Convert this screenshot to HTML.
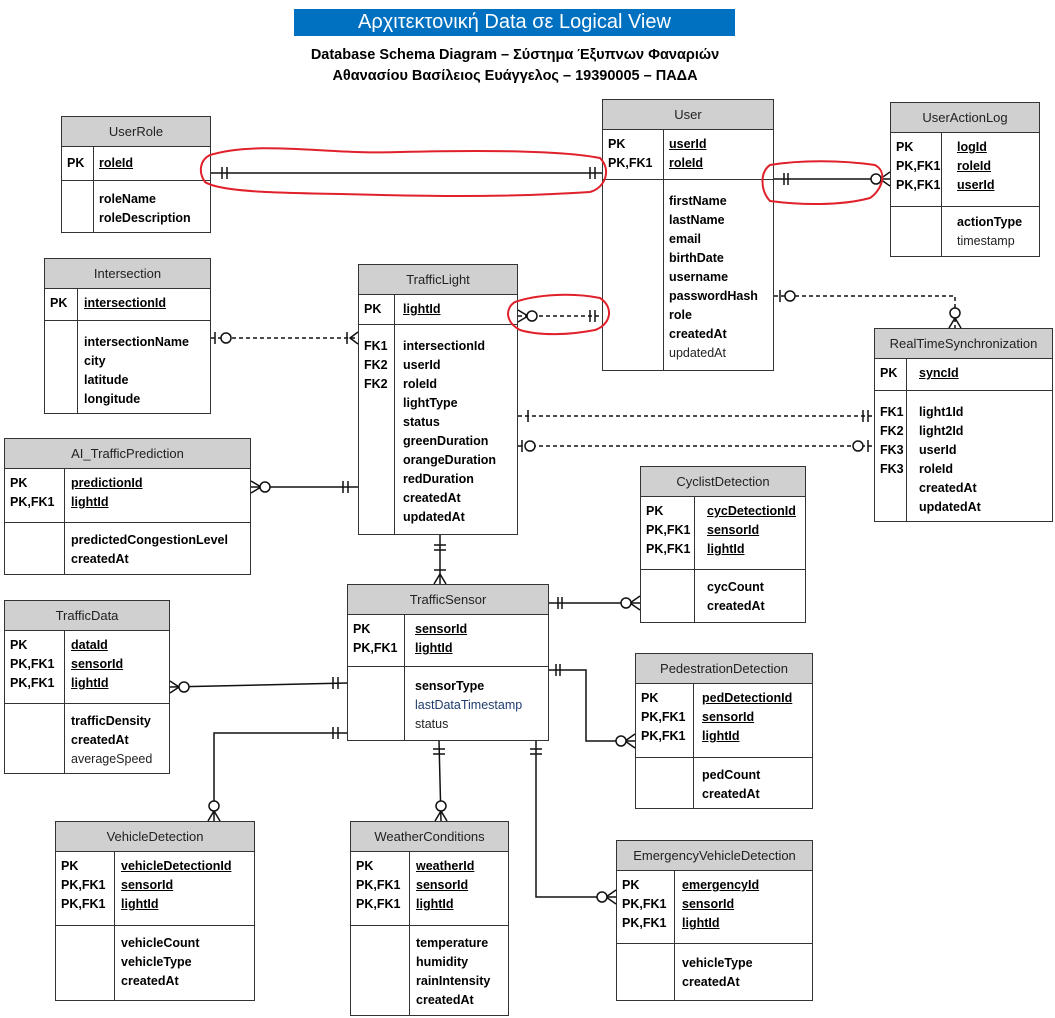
<!DOCTYPE html>
<html><head><meta charset="utf-8"><style>
body{margin:0;width:1055px;height:1018px;background:#fff;position:relative;overflow:hidden;font-family:"Liberation Sans",sans-serif;}
.t{position:absolute;border:1px solid #333;background:#fff;box-sizing:border-box;font-size:12.5px;color:#000}
.h{background:#d0d0d0;border-bottom:1px solid #333;text-align:center;font-size:13px;color:#222;box-sizing:border-box;padding-top:7px;height:30px}
.s{position:relative;border-bottom:1px solid #333;box-sizing:border-box}
.s:last-child{border-bottom:none}
.k{position:absolute;left:0;top:0;bottom:0;border-right:1px solid #333;padding-left:5px;font-weight:bold;box-sizing:border-box;line-height:19px}
.v{position:absolute;top:0;line-height:19px;font-weight:bold;white-space:nowrap}
.v u{text-decoration:underline}
.n{font-weight:normal;color:#222}
.b{color:#1f3c6e;font-weight:normal}
.title{position:absolute;left:294px;top:9px;width:441px;height:27px;background:#0070c0;color:#fff;font-size:20px;text-align:center;line-height:27px}
.sub{position:absolute;left:0;width:1030px;text-align:center;font-weight:bold;font-size:14.5px}
svg{position:absolute;left:0;top:0}
</style></head><body>
<div class="title">Αρχιτεκτονική Data σε Logical View</div>
<div class="sub" style="top:47px">Database Schema Diagram – Σύστημα Έξυπνων Φαναριών</div>
<div class="sub" style="top:68px">Αθανασίου Βασίλειος Ευάγγελος – 19390005 – ΠΑΔΑ</div>

<!-- UserRole -->
<div class="t" style="left:61px;top:116px;width:150px;height:117px">
<div class="h">UserRole</div>
<div class="s" style="height:34px"><div class="k" style="width:32px;padding-top:7px">PK</div><div class="v" style="left:37px;top:7px"><u>roleId</u></div></div>
<div class="s" style="height:51px"><div class="k" style="width:32px"></div><div class="v" style="left:37px;top:9px">roleName<br>roleDescription</div></div>
</div>

<!-- User -->
<div class="t" style="left:602px;top:99px;width:172px;height:272px">
<div class="h">User</div>
<div class="s" style="height:50px"><div class="k" style="width:61px;padding-top:5px">PK<br>PK,FK1</div><div class="v" style="left:66px;top:5px"><u>userId</u><br><u>roleId</u></div></div>
<div class="s" style="height:190px"><div class="k" style="width:61px"></div><div class="v" style="left:66px;top:12px">firstName<br>lastName<br>email<br>birthDate<br>username<br>passwordHash<br>role<br>createdAt<br><span class="n">updatedAt</span></div></div>
</div>

<!-- UserActionLog -->
<div class="t" style="left:890px;top:102px;width:150px;height:155px">
<div class="h">UserActionLog</div>
<div class="s" style="height:74px"><div class="k" style="width:51px;padding-top:5px">PK<br>PK,FK1<br>PK,FK1</div><div class="v" style="left:66px;top:5px"><u>logId</u><br><u>roleId</u><br><u>userId</u></div></div>
<div class="s" style="height:50px"><div class="k" style="width:51px"></div><div class="v" style="left:66px;top:6px">actionType<br><span class="n">timestamp</span></div></div>
</div>

<!-- Intersection -->
<div class="t" style="left:44px;top:258px;width:167px;height:156px">
<div class="h">Intersection</div>
<div class="s" style="height:32px"><div class="k" style="width:33px;padding-top:5px">PK</div><div class="v" style="left:39px;top:5px"><u>intersectionId</u></div></div>
<div class="s" style="height:93px"><div class="k" style="width:33px"></div><div class="v" style="left:39px;top:12px">intersectionName<br>city<br>latitude<br>longitude</div></div>
</div>

<!-- TrafficLight -->
<div class="t" style="left:358px;top:264px;width:160px;height:271px">
<div class="h">TrafficLight</div>
<div class="s" style="height:30px"><div class="k" style="width:36px;padding-top:5px">PK</div><div class="v" style="left:44px;top:5px"><u>lightId</u></div></div>
<div class="s" style="height:210px"><div class="k" style="width:36px;padding-top:12px">FK1<br>FK2<br>FK2</div><div class="v" style="left:44px;top:12px">intersectionId<br>userId<br>roleId<br>lightType<br>status<br>greenDuration<br>orangeDuration<br>redDuration<br>createdAt<br>updatedAt</div></div>
</div>

<!-- RealTimeSynchronization -->
<div class="t" style="left:874px;top:328px;width:179px;height:194px">
<div class="h">RealTimeSynchronization</div>
<div class="s" style="height:32px"><div class="k" style="width:32px;padding-top:5px">PK</div><div class="v" style="left:44px;top:5px"><u>syncId</u></div></div>
<div class="s" style="height:131px"><div class="k" style="width:32px;padding-top:12px">FK1<br>FK2<br>FK3<br>FK3</div><div class="v" style="left:44px;top:12px">light1Id<br>light2Id<br>userId<br>roleId<br>createdAt<br>updatedAt</div></div>
</div>

<!-- AI_TrafficPrediction -->
<div class="t" style="left:4px;top:438px;width:247px;height:137px">
<div class="h">AI_TrafficPrediction</div>
<div class="s" style="height:54px"><div class="k" style="width:60px;padding-top:5px">PK<br>PK,FK1</div><div class="v" style="left:66px;top:5px"><u>predictionId</u><br><u>lightId</u></div></div>
<div class="s" style="height:52px"><div class="k" style="width:60px"></div><div class="v" style="left:66px;top:8px">predictedCongestionLevel<br>createdAt</div></div>
</div>

<!-- CyclistDetection -->
<div class="t" style="left:640px;top:466px;width:166px;height:157px">
<div class="h">CyclistDetection</div>
<div class="s" style="height:73px"><div class="k" style="width:54px;padding-top:5px">PK<br>PK,FK1<br>PK,FK1</div><div class="v" style="left:66px;top:5px"><u>cycDetectionId</u><br><u>sensorId</u><br><u>lightId</u></div></div>
<div class="s" style="height:53px"><div class="k" style="width:54px"></div><div class="v" style="left:66px;top:8px">cycCount<br>createdAt</div></div>
</div>

<!-- TrafficSensor -->
<div class="t" style="left:347px;top:584px;width:202px;height:157px">
<div class="h">TrafficSensor</div>
<div class="s" style="height:52px"><div class="k" style="width:57px;padding-top:5px">PK<br>PK,FK1</div><div class="v" style="left:67px;top:5px"><u>sensorId</u><br><u>lightId</u></div></div>
<div class="s" style="height:74px"><div class="k" style="width:57px"></div><div class="v" style="left:67px;top:10px">sensorType<br><span class="b">lastDataTimestamp</span><br><span class="n">status</span></div></div>
</div>

<!-- TrafficData -->
<div class="t" style="left:4px;top:600px;width:166px;height:174px">
<div class="h">TrafficData</div>
<div class="s" style="height:73px"><div class="k" style="width:60px;padding-top:5px">PK<br>PK,FK1<br>PK,FK1</div><div class="v" style="left:66px;top:5px"><u>dataId</u><br><u>sensorId</u><br><u>lightId</u></div></div>
<div class="s" style="height:70px"><div class="k" style="width:60px"></div><div class="v" style="left:66px;top:8px">trafficDensity<br>createdAt<br><span class="n">averageSpeed</span></div></div>
</div>

<!-- PedestrationDetection -->
<div class="t" style="left:635px;top:653px;width:178px;height:156px">
<div class="h">PedestrationDetection</div>
<div class="s" style="height:74px"><div class="k" style="width:58px;padding-top:5px">PK<br>PK,FK1<br>PK,FK1</div><div class="v" style="left:66px;top:5px"><u>pedDetectionId</u><br><u>sensorId</u><br><u>lightId</u></div></div>
<div class="s" style="height:51px"><div class="k" style="width:58px"></div><div class="v" style="left:66px;top:8px">pedCount<br>createdAt</div></div>
</div>

<!-- VehicleDetection -->
<div class="t" style="left:55px;top:821px;width:200px;height:180px">
<div class="h">VehicleDetection</div>
<div class="s" style="height:74px"><div class="k" style="width:59px;padding-top:5px">PK<br>PK,FK1<br>PK,FK1</div><div class="v" style="left:65px;top:5px"><u>vehicleDetectionId</u><br><u>sensorId</u><br><u>lightId</u></div></div>
<div class="s" style="height:75px"><div class="k" style="width:59px"></div><div class="v" style="left:65px;top:8px">vehicleCount<br>vehicleType<br>createdAt</div></div>
</div>

<!-- WeatherConditions -->
<div class="t" style="left:350px;top:821px;width:159px;height:195px">
<div class="h">WeatherConditions</div>
<div class="s" style="height:74px"><div class="k" style="width:59px;padding-top:5px">PK<br>PK,FK1<br>PK,FK1</div><div class="v" style="left:65px;top:5px"><u>weatherId</u><br><u>sensorId</u><br><u>lightId</u></div></div>
<div class="s" style="height:90px"><div class="k" style="width:59px"></div><div class="v" style="left:65px;top:8px">temperature<br>humidity<br>rainIntensity<br>createdAt</div></div>
</div>

<!-- EmergencyVehicleDetection -->
<div class="t" style="left:616px;top:840px;width:197px;height:161px">
<div class="h">EmergencyVehicleDetection</div>
<div class="s" style="height:73px"><div class="k" style="width:58px;padding-top:5px">PK<br>PK,FK1<br>PK,FK1</div><div class="v" style="left:65px;top:5px"><u>emergencyId</u><br><u>sensorId</u><br><u>lightId</u></div></div>
<div class="s" style="height:56px"><div class="k" style="width:58px"></div><div class="v" style="left:65px;top:10px">vehicleType<br>createdAt</div></div>
</div>

<svg width="1055" height="1018" viewBox="0 0 1055 1018" fill="none" stroke="#111" stroke-width="1.5">
<!-- UserRole-User -->
<line x1="211" y1="173" x2="602" y2="173"/>
<path d="M222 167v12M227 167v12M590 167v12M595 167v12"/>
<!-- User-UserActionLog -->
<line x1="774" y1="179" x2="890" y2="179"/>
<path d="M784 173v12M788 173v12M890 172L880 179L890 186"/>
<circle cx="876" cy="179" r="5" fill="#fff"/>
<!-- TrafficLight-User dashed -->
<line x1="518" y1="316" x2="602" y2="316" stroke-dasharray="4,3"/>
<path d="M518 310L528 316L518 322M590 310v12M595 310v12"/>
<circle cx="532" cy="316" r="5" fill="#fff"/>
<!-- Intersection-TrafficLight -->
<line x1="211" y1="338" x2="358" y2="338" stroke-dasharray="4,3"/>
<path d="M215 332v12M347 332v12M358 332L350 338L358 344"/>
<circle cx="226" cy="338" r="5" fill="#fff"/>
<!-- passwordHash-RealTime -->
<path d="M774 296H955V328" stroke-dasharray="4,3"/>
<path d="M780 290v12M949 328L955 318L961 328"/>
<circle cx="790" cy="296" r="5" fill="#fff"/>
<circle cx="955" cy="313" r="5" fill="#fff"/>
<!-- TL-RTS dashed 1 -->
<line x1="518" y1="416" x2="874" y2="416" stroke-dasharray="4,3"/>
<path d="M528 410v12M863 410v12M868 410v12"/>
<!-- TL-RTS dashed 2 -->
<line x1="518" y1="446" x2="874" y2="446" stroke-dasharray="4,3"/>
<path d="M522 440v12M868 440v12"/>
<circle cx="530" cy="446" r="5" fill="#fff"/>
<circle cx="858" cy="446" r="5" fill="#fff"/>
<!-- AI-TL -->
<line x1="251" y1="487" x2="358" y2="487"/>
<path d="M251 481L261 487L251 493M343 481v12M348 481v12"/>
<circle cx="265" cy="487" r="5" fill="#fff"/>
<!-- TL-Sensor -->
<line x1="440" y1="535" x2="440" y2="584"/>
<path d="M434 545h12M434 550h12M434 570h12M434 584L440 574L446 584"/>
<!-- Sensor-Cyclist -->
<line x1="549" y1="603" x2="640" y2="603"/>
<path d="M558 597v12M562 597v12M640 596L630 603L640 610"/>
<circle cx="626" cy="603" r="5" fill="#fff"/>
<!-- Sensor-Pedestration -->
<path d="M549 670H586V741H635"/>
<path d="M556 664v12M560 664v12M635 734L625 741L635 748"/>
<circle cx="621" cy="741" r="5" fill="#fff"/>
<!-- TrafficData-Sensor -->
<line x1="170" y1="687" x2="347" y2="683"/>
<path d="M170 681L179 687L170 693M333 677v12M338 677v12"/>
<circle cx="184" cy="687" r="5" fill="#fff"/>
<!-- Vehicle -->
<path d="M347 733H214V821"/>
<path d="M333 727v12M338 727v12M208 821L214 811L220 821"/>
<circle cx="214" cy="806" r="5" fill="#fff"/>
<!-- Weather -->
<path d="M439 741L441 821"/>
<path d="M433 749h12M433 754h12M435 821L441 811L447 821"/>
<circle cx="441" cy="806" r="5" fill="#fff"/>
<!-- Emergency -->
<path d="M536 741V897H616"/>
<path d="M530 749h12M530 754h12M616 890L606 897L616 904"/>
<circle cx="602" cy="897" r="5" fill="#fff"/>
<!-- red highlights -->
<g stroke="#e0202a" stroke-width="2">
<path d="M210 155C260 140 330 155 400 152C480 150 560 150 600 158C612 170 605 188 590 192C500 198 420 196 340 194C280 193 220 192 205 182C198 172 200 160 210 155Z"/>
<path d="M770 165C800 160 840 160 875 165C888 172 882 190 870 198C840 206 800 205 770 201C760 190 760 172 770 165Z"/>
<path d="M515 302C535 295 570 292 600 298C615 308 610 325 595 330C570 335 540 336 520 330C505 322 505 308 515 302Z"/>
</g>
</svg>
</body></html>
